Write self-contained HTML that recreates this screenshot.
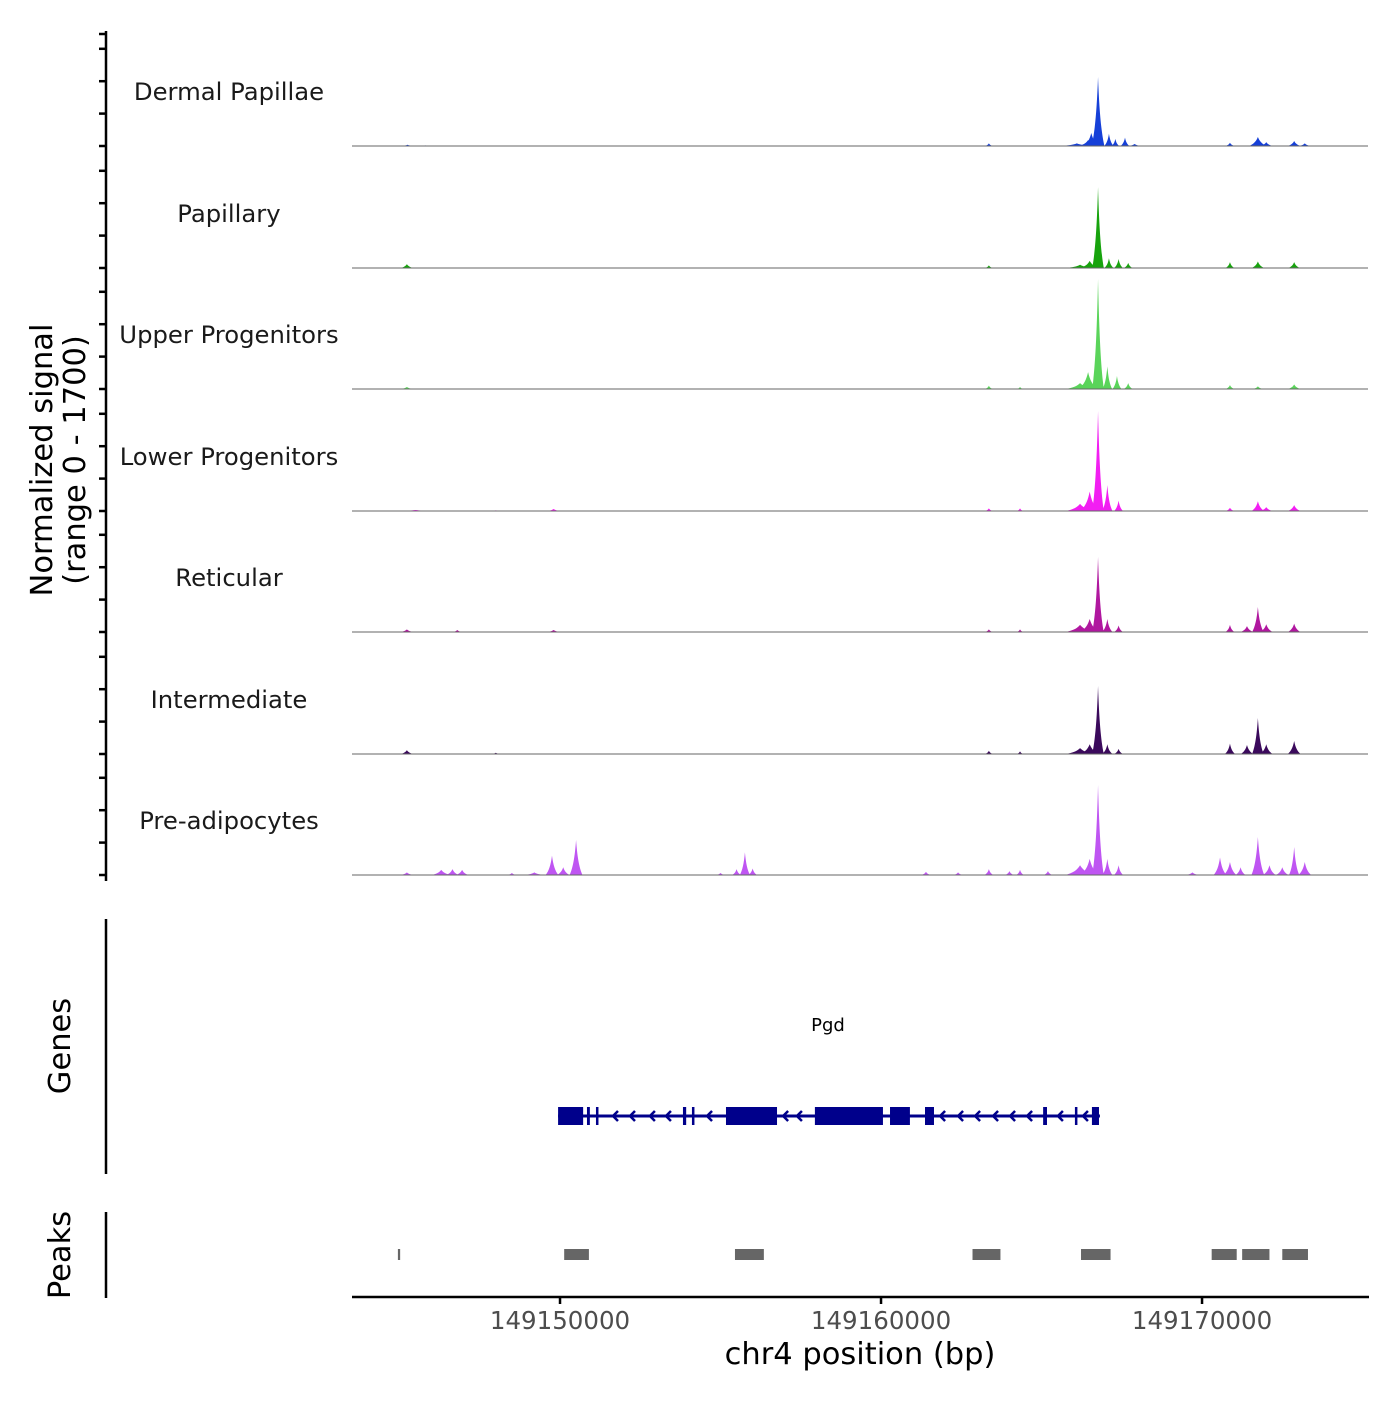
<!DOCTYPE html>
<html><head><meta charset="utf-8"><style>
body{margin:0;background:#fff;}
svg text{font-family:"DejaVu Sans","Liberation Sans",sans-serif;}
</style></head><body>
<svg id="chart" width="1400" height="1400" viewBox="0 0 1400 1400" xmlns="http://www.w3.org/2000/svg">
<g id="tracks"></g>
<g id="axes"></g>
<g id="genes"></g>
<g id="peaks"></g>
</svg>
<script>
const xTicks = [149150000, 149160000, 149170000];
const trackNames = ["Dermal Papillae","Papillary","Upper Progenitors","Lower Progenitors","Reticular","Intermediate","Pre-adipocytes"];
const trackColors = ["#1640d8","#17a30d","#5ad45a","#f21ef2","#b0179f","#3b0a5c","#bf55f2"];
// peaks: [center kb, half-width kb, value]
const sigDermal = [[145.25,0.2,20],[145.8,0.2,10],[149.5,0.3,8],[163.36,0.12,40],[166.1,0.5,40],[166.45,0.3,90],[166.55,0.25,200],[166.76,0.2,1066],[167.1,0.15,190],[167.3,0.12,110],[167.6,0.14,130],[167.9,0.2,30],[170.87,0.14,50],[171.74,0.28,140],[172.0,0.2,60],[172.87,0.2,77],[173.2,0.18,40]];
const sigPapillary = [[145.23,0.2,60],[163.36,0.12,40],[166.2,0.45,50],[166.5,0.3,110],[166.76,0.18,1250],[167.1,0.14,150],[167.4,0.14,140],[167.7,0.14,80],[170.87,0.14,90],[171.74,0.2,100],[172.87,0.18,90]];
const sigUpper = [[145.23,0.2,30],[163.36,0.12,50],[164.33,0.1,30],[166.2,0.45,90],[166.45,0.3,260],[166.76,0.18,1700],[167.05,0.15,350],[167.35,0.14,200],[167.7,0.14,90],[170.87,0.14,60],[171.74,0.16,40],[172.87,0.2,70]];
const sigLower = [[145.5,0.6,15],[148.0,0.5,10],[149.8,0.2,30],[163.36,0.12,40],[164.33,0.1,40],[166.2,0.45,110],[166.5,0.3,300],[166.76,0.18,1545],[167.05,0.16,400],[167.4,0.14,160],[170.87,0.14,50],[171.74,0.2,150],[172.0,0.2,60],[172.87,0.2,90]];
const sigReticular = [[145.23,0.2,40],[146.8,0.14,30],[149.8,0.2,30],[163.36,0.12,40],[164.33,0.1,40],[166.2,0.45,110],[166.5,0.3,200],[166.76,0.18,1160],[167.05,0.16,200],[167.4,0.14,100],[170.87,0.14,110],[171.4,0.2,90],[171.74,0.18,386],[172.0,0.2,120],[172.87,0.2,130]];
const sigIntermediate = [[145.23,0.2,60],[148.0,0.14,20],[163.36,0.12,50],[164.33,0.1,40],[166.2,0.45,90],[166.5,0.3,150],[166.76,0.18,1050],[167.05,0.16,150],[167.4,0.14,80],[170.87,0.16,160],[171.4,0.2,140],[171.74,0.18,556],[172.0,0.2,150],[172.87,0.2,200]];
const sigPreadipo = [[145.23,0.2,40],[146.3,0.3,80],[146.65,0.2,90],[146.95,0.2,80],[148.5,0.14,30],[149.2,0.3,40],[149.75,0.2,300],[150.1,0.2,120],[150.5,0.2,540],[155.0,0.14,30],[155.5,0.14,90],[155.76,0.16,350],[156.0,0.14,100],[161.4,0.14,50],[162.4,0.14,40],[163.36,0.14,90],[164.0,0.14,60],[164.33,0.12,80],[165.2,0.14,60],[166.2,0.45,150],[166.5,0.3,250],[166.76,0.18,1390],[167.05,0.16,250],[167.4,0.14,150],[169.7,0.2,40],[170.56,0.2,270],[170.87,0.2,200],[171.2,0.16,120],[171.74,0.2,587],[172.1,0.2,150],[172.5,0.2,120],[172.87,0.16,433],[173.2,0.2,200]];
const trackSignals = [sigDermal,sigPapillary,sigUpper,sigLower,sigReticular,sigIntermediate,sigPreadipo];
const geneStart = 149.94, geneEnd = 166.82;
const exons = [[149.94,150.72],[150.84,150.93],[151.12,151.18],[153.83,153.93],[154.11,154.17],[155.17,156.76],[157.94,160.06],[160.28,160.9],[161.37,161.65],[165.05,165.17],[166.04,166.07],[166.57,166.79]];
const arrowsKb = [151.65,152.18,152.8,153.3,154.58,156.95,157.38,161.84,162.4,162.93,163.49,164.02,164.55,165.51,166.29];
const peakRegions = [[144.95,145.02],[150.13,150.9],[155.45,156.35],[162.85,163.72],[166.23,167.15],[170.3,171.08],[171.25,172.1],[172.5,173.3]];

const NS="http://www.w3.org/2000/svg";
function mk(tag,attrs,parent){const e=document.createElementNS(NS,tag);for(const k in attrs)e.setAttribute(k,attrs[k]);parent.appendChild(e);return e;}
const x0=352,x1=1368,kbStart=143.52,kbEnd=175.17;
const xs=kb=>x0+(kb-kbStart)/(kbEnd-kbStart)*(x1-x0);
const baselines=[146,268,389,511,632,754,875];
const ys=(v,b)=>b-v/1700*110;
const tracks=document.getElementById('tracks');
trackNames.forEach((name,i)=>{
  const g=mk('g',{},tracks);
  
  
  const b=baselines[i];
  const lab=mk('text',{x:229,y:b-46,'text-anchor':'middle','font-size':24.3,fill:'#1a1a1a'},g);
  lab.textContent=name;
  
  
  trackSignals[i].forEach(p=>{
    const [c,w,v]=p;
    const path=mk('path',{d:`M${xs(c-w)},${b} C${xs(c-w*0.5)},${ys(v*0.2,b)} ${xs(c-w*0.2)},${ys(v*0.5,b)} ${xs(c)},${ys(v,b)} C${xs(c+w*0.2)},${ys(v*0.5,b)} ${xs(c+w*0.5)},${ys(v*0.2,b)} ${xs(c+w)},${b} Z`,fill:trackColors[i]},g);
    
    
  });
  const bl=mk('line',{x1:x0,x2:x1,y1:b,y2:b,stroke:'#666','stroke-width':1},g);
  
  
});
const axes=document.getElementById('axes');
function line(x1_,y1_,x2_,y2_,w,name){const l=mk('line',{x1:x1_,y1:y1_,x2:x2_,y2:y2_,stroke:'#000','stroke-width':w},axes);}
line(106,31,106,881,2.5,'y-axis-line');
line(106,919,106,1174,2.5,'genes-axis-line');
line(106,1212,106,1298,2.5,'peaks-axis-line');
baselines.forEach(b=>{for(let k=0;k<4;k++)line(99,b-32.4*k,106,b-32.4*k,2.5,'y-tick');});
line(99,34,106,34,2.5,'y-tick');
line(352,1297,1369,1297,2.5,'x-axis-line');
xTicks.forEach(t=>{const x=xs(t/1000-149000);line(x,1297,x,1304,2.5,'x-tick');
  const tx=mk('text',{x:x,y:1329,'text-anchor':'middle','font-size':24.5,fill:'#4d4d4d'},axes);tx.textContent=t;
  });
function txt(s,attrs,name){const t=mk('text',attrs,axes);t.textContent=s;return t;}
txt('chr4 position (bp)',{x:860,y:1364,'text-anchor':'middle','font-size':30.5,fill:'#000'},'x-axis-title');
const yt=mk('text',{transform:'translate(52,460) rotate(-90)','text-anchor':'middle','font-size':30.5,fill:'#000'},axes);

const t1=mk('tspan',{x:0,dy:0},yt);t1.textContent='Normalized signal';
const t2=mk('tspan',{x:0,dy:33},yt);t2.textContent='(range 0 - 1700)';
txt('Genes',{transform:'translate(70,1046) rotate(-90)','text-anchor':'middle','font-size':30.5,fill:'#000'},'genes-axis-title');
txt('Peaks',{transform:'translate(70,1255) rotate(-90)','text-anchor':'middle','font-size':30.5,fill:'#000'},'peaks-axis-title');
const genes=document.getElementById('genes');
const gy=1116,gc='#00008b';
const gl=mk('line',{x1:xs(geneStart),x2:xs(geneEnd),y1:gy,y2:gy,stroke:gc,'stroke-width':3},genes);

exons.forEach(e=>{const r=mk('rect',{x:xs(e[0]),y:gy-9,width:Math.max(2.5,xs(e[1])-xs(e[0])),height:18,fill:gc},genes);
  });
arrowsKb.forEach(a=>{const x=xs(a);const p=mk('path',{d:`M${x+5},${gy-5} L${x},${gy} L${x+5},${gy+5}`,stroke:gc,'stroke-width':2.5,fill:'none'},genes);
  });
const gn=mk('text',{x:828,y:1031,'text-anchor':'middle','font-size':18,fill:'#000'},genes);gn.textContent='Pgd';

const peaks=document.getElementById('peaks');
peakRegions.forEach(p=>{const r=mk('rect',{x:xs(p[0]),y:1249,width:Math.max(2,xs(p[1])-xs(p[0])),height:11,fill:'#666'},peaks);
  });
</script>
</body></html>
